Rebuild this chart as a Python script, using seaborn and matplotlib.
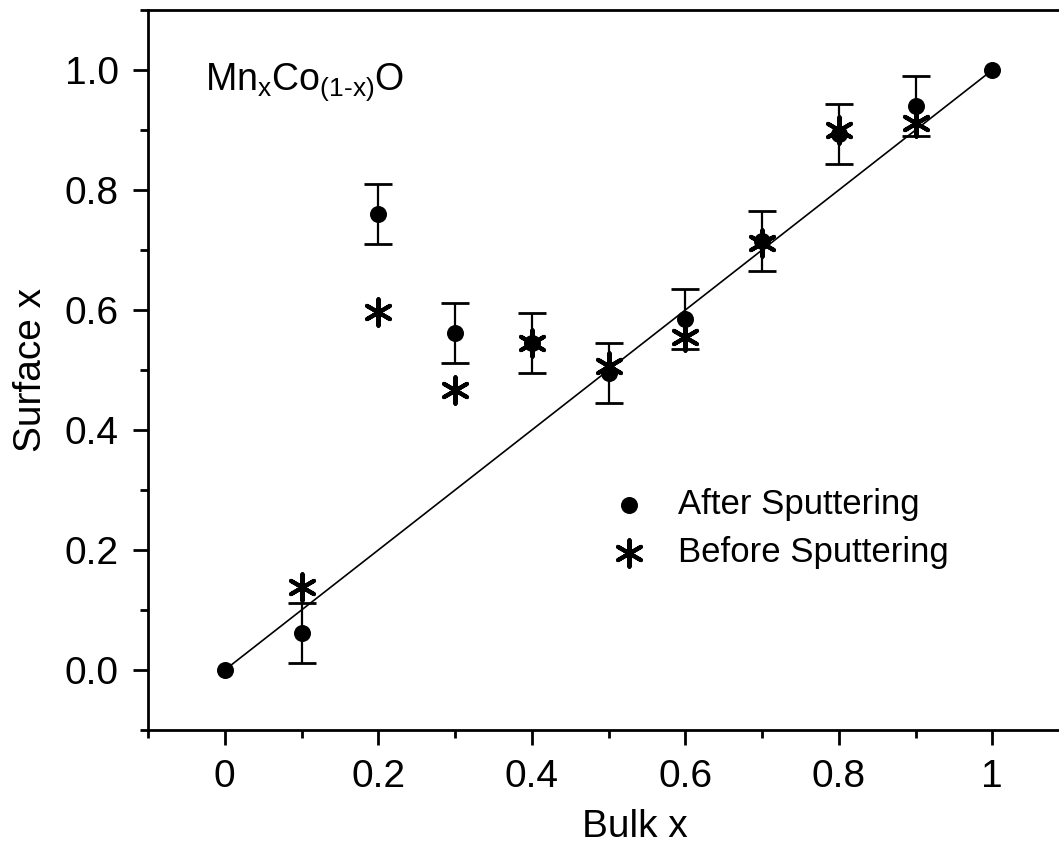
import numpy as np
import pandas as pd
import matplotlib
matplotlib.use("Agg")
import matplotlib.pyplot as plt
import seaborn as sns
from matplotlib.ticker import MultipleLocator

# data
bulk_x = [0.0, 0.1, 0.2, 0.3, 0.4, 0.5, 0.6, 0.7, 0.8, 0.9, 1.0]
after_y = [0.0, 0.062, 0.760, 0.562, 0.545, 0.495, 0.585, 0.715, 0.893, 0.940, 1.0]
err_x = [0.1, 0.2, 0.3, 0.4, 0.5, 0.6, 0.7, 0.8, 0.9]
err_y = [0.062, 0.760, 0.562, 0.545, 0.495, 0.585, 0.715, 0.893, 0.940]
err_size = [0.05, 0.05, 0.05, 0.05, 0.05, 0.05, 0.05, 0.05, 0.05]
before_x = [0.1, 0.2, 0.3, 0.4, 0.5, 0.6, 0.7, 0.8, 0.9]
before_y = [0.138, 0.597, 0.467, 0.545, 0.507, 0.555, 0.712, 0.900, 0.912]
fit_x = [0.0, 1.0]
fit_y = [0.0, 1.0]

xtick_vals = [0, 0.2, 0.4, 0.6, 0.8, 1.0]
xtick_labels = ["0", "0.2", "0.4", "0.6", "0.8", "1"]
ytick_vals = [0.0, 0.2, 0.4, 0.6, 0.8, 1.0]
ytick_labels = ["0.0", "0.2", "0.4", "0.6", "0.8", "1.0"]

sns.set_theme(style="ticks")
plt.rcParams['font.family'] = ['Liberation Sans', 'DejaVu Sans']
plt.rcParams['mathtext.fontset'] = 'custom'
plt.rcParams['mathtext.rm'] = 'Liberation Sans'
plt.rcParams['mathtext.it'] = 'Liberation Sans'

fig = plt.figure(figsize=(10.59, 8.57), dpi=100)
ax = fig.add_axes([0.1398, 0.1482, 0.8697, 0.8401])

after_df = pd.DataFrame({'bulk': bulk_x, 'surface': after_y})
before_df = pd.DataFrame({'bulk': before_x, 'surface': before_y})

# y = x reference line
sns.lineplot(x=fit_x, y=fit_y, ax=ax, color='black', lw=1.2, zorder=1)

# error bars on the after-sputtering points
ax.errorbar(err_x, err_y, yerr=err_size, fmt='none', ecolor='black',
            elinewidth=1.6, capsize=10, capthick=2, zorder=2)

sns.scatterplot(data=after_df, x='bulk', y='surface', ax=ax, marker='o',
                s=150, color='black', edgecolor='black', linewidth=0,
                label='After Sputtering', zorder=3)
sns.scatterplot(data=before_df, x='bulk', y='surface', ax=ax, marker=(6, 2, 0),
                s=360, color='black', linewidth=3,
                label='Before Sputtering', zorder=4)

ax.set_xlim(-0.1, 1.1)
ax.set_ylim(-0.1, 1.1)
ax.set_xticks(xtick_vals)
ax.set_xticklabels(xtick_labels)
ax.set_yticks(ytick_vals)
ax.set_yticklabels(ytick_labels)
ax.xaxis.set_minor_locator(MultipleLocator(0.1))
ax.yaxis.set_minor_locator(MultipleLocator(0.1))

ax.tick_params(which='major', direction='out', length=11, width=2,
               labelsize=28, color='black', labelcolor='black', pad=10)
ax.tick_params(which='minor', direction='out', length=6, width=2, color='black')
ax.tick_params(top=False, right=False)

for side in ['left', 'bottom', 'top', 'right']:
    ax.spines[side].set_visible(True)
    ax.spines[side].set_linewidth(2)
    ax.spines[side].set_color('black')

ax.set_xlabel('Bulk x', fontsize=28, color='black')
ax.set_ylabel('Surface x', fontsize=28, color='black')
ax.xaxis.set_label_coords(0.529, -0.11)
ax.yaxis.set_label_coords(-0.108, 0.5)

ax.text(0.062, 0.9, r'Mn$_\mathregular{x}$Co$_{\text{(1-x)}}$O',
        transform=ax.transAxes, fontsize=27, ha='left', va='center', color='black')

leg = ax.legend(loc='upper left', bbox_to_anchor=(0.451, 0.38), frameon=False,
                prop={'size': 25}, handletextpad=0.4, labelspacing=0.45,
                markerscale=1.0, labelcolor='black')

fig.savefig('out.png', dpi=100)
